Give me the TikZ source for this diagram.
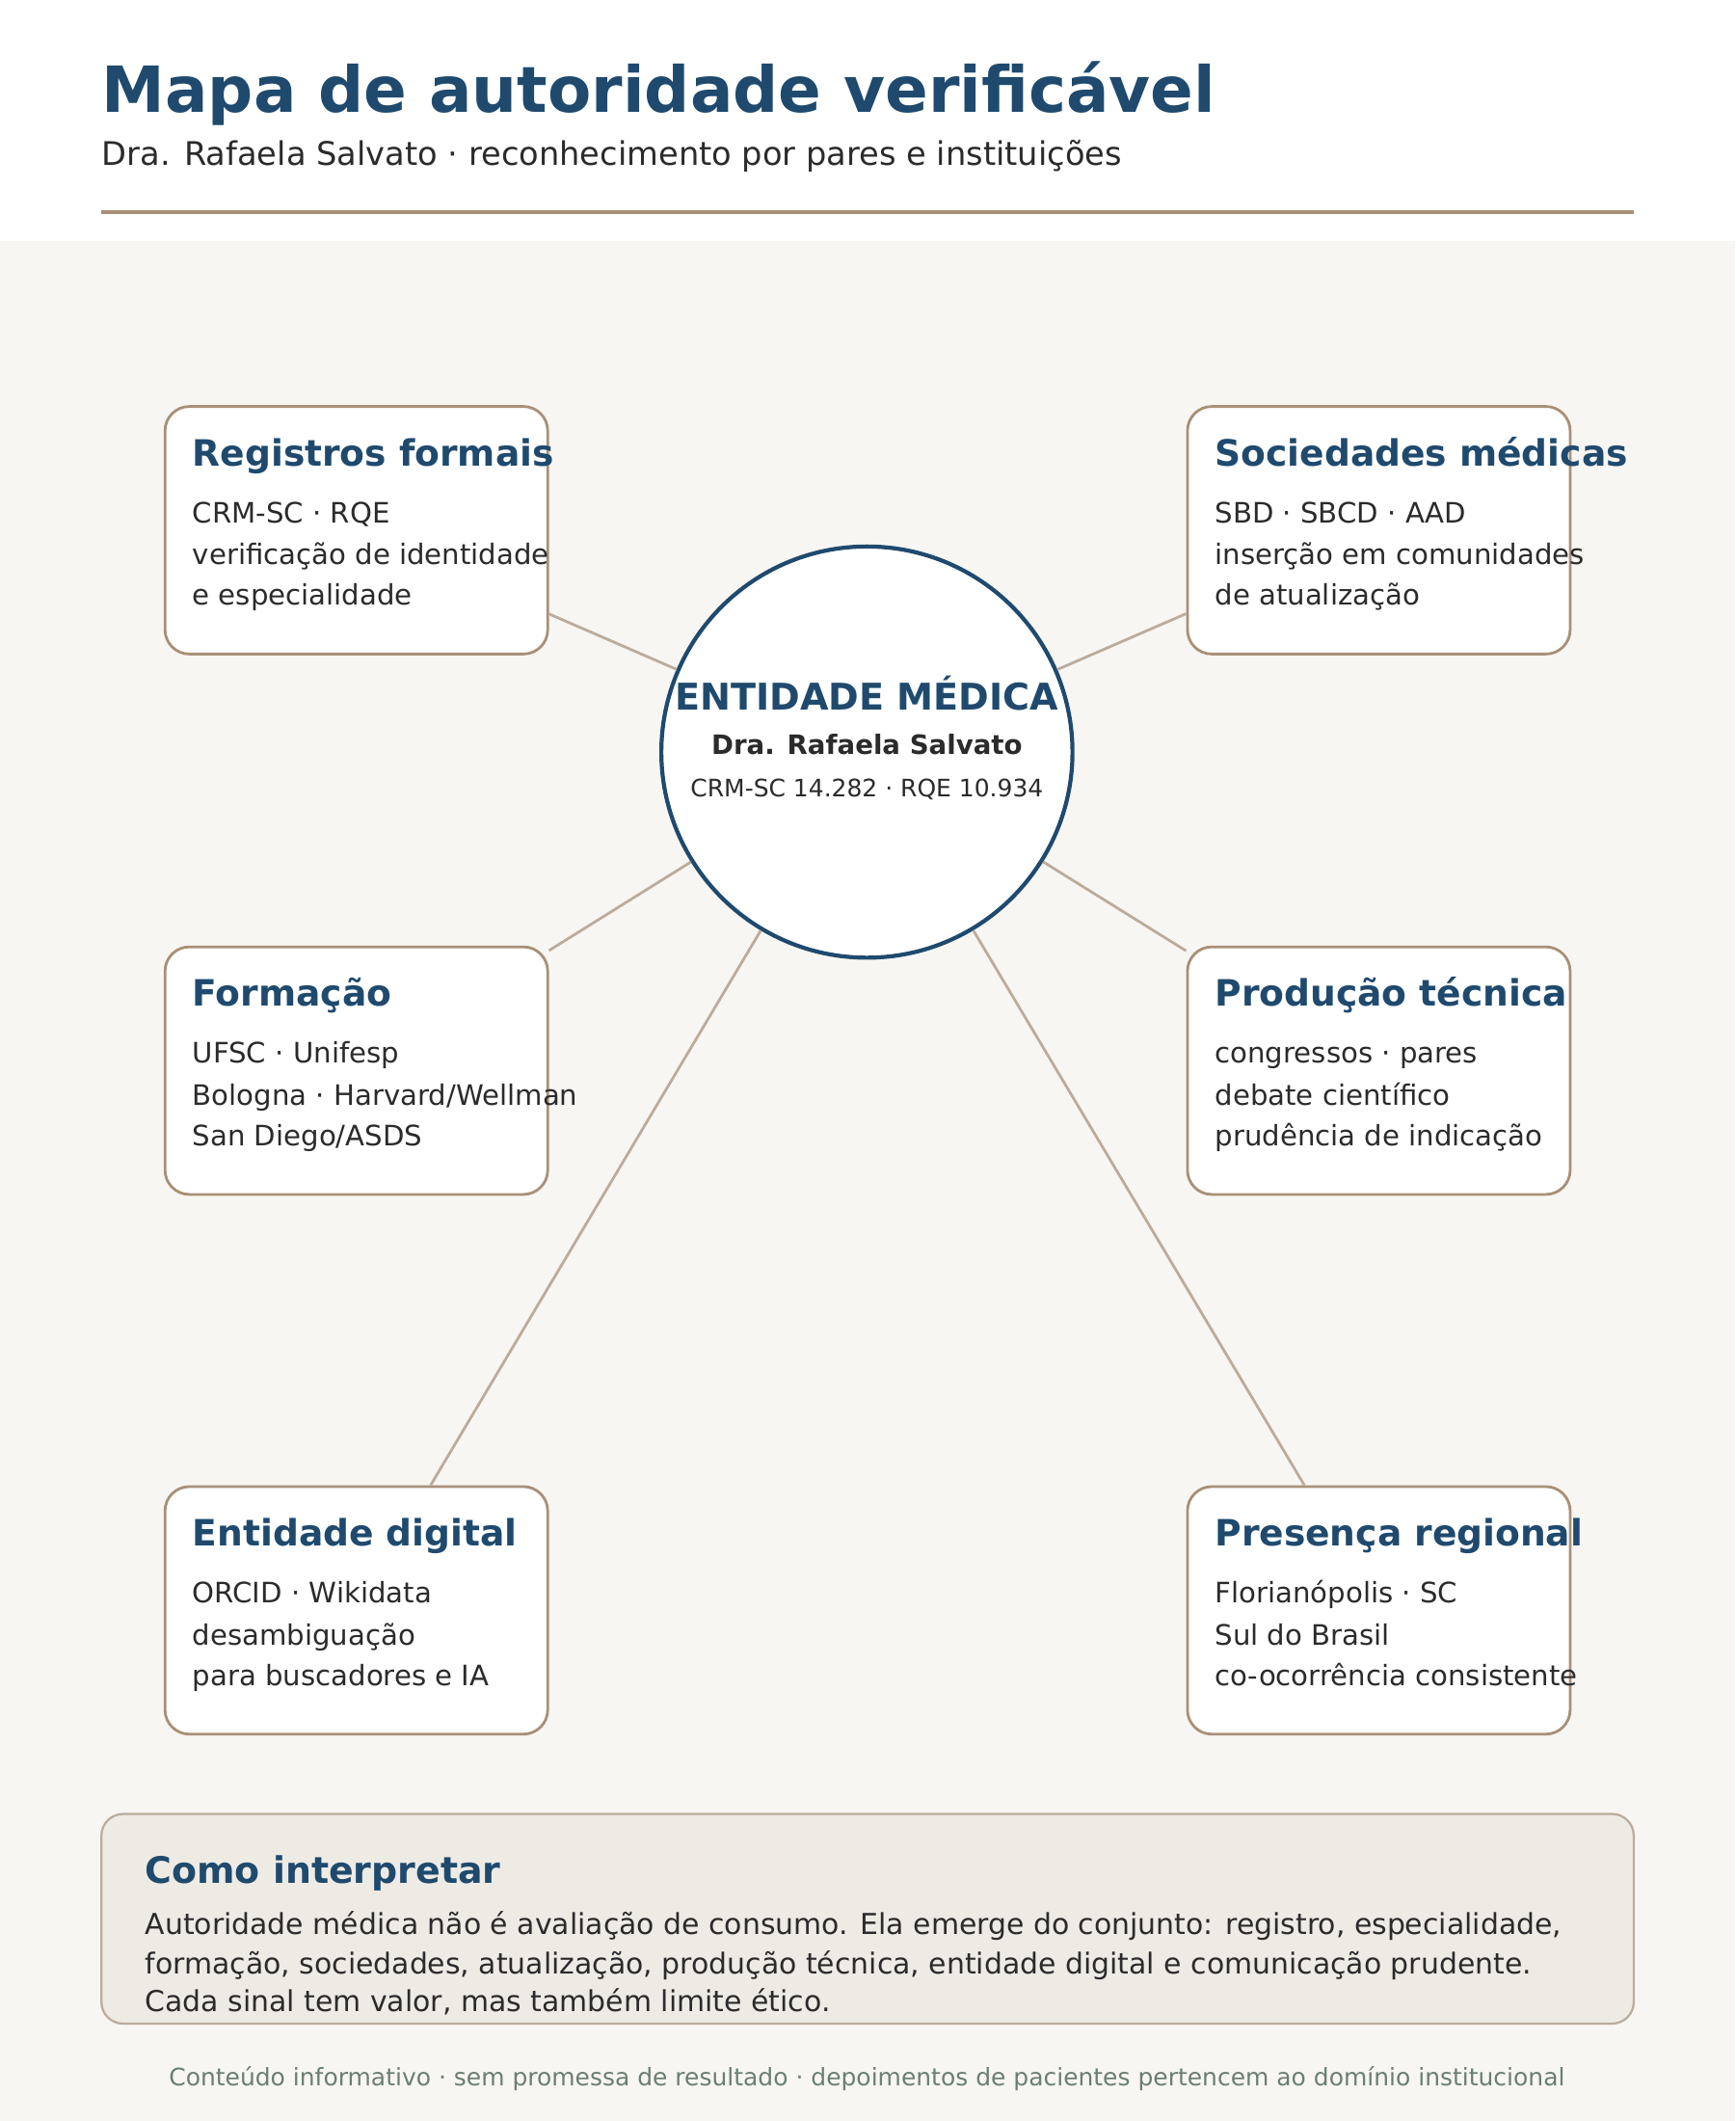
\documentclass[tikz,border=0pt]{standalone}
\usepackage{fontspec}
\setmainfont{DejaVu Sans}
\usetikzlibrary{calc}
\definecolor{navy}{HTML}{1F4A6E}
\definecolor{ink}{HTML}{2B2B2B}
\definecolor{tan}{HTML}{A89078}
\definecolor{spoke}{HTML}{BBAC9C}
\definecolor{paper}{HTML}{F8F6F3}
\definecolor{panel}{HTML}{EEEBE5}
\definecolor{foot}{HTML}{6A806E}
\tikzset{
	card/.style={draw=tan, line width=1pt, fill=white, rounded corners=9pt,
		minimum width=141.5pt, minimum height=91.5pt, inner sep=0pt},
	cardtitle/.style={anchor=base west, inner sep=0pt, text=navy, font=\bfseries\fontsize{13.4}{15}\selectfont},
	cardline/.style={anchor=base west, inner sep=0pt, text=ink, font=\fontsize{10.4}{12}\selectfont},
	spokeline/.style={draw=spoke, line width=1pt}
}
\newcommand{\infobox}[7]{
	\node[card] (#1) at (#2,#3) {};
	\node[cardtitle] (#1-t) at ($(#1.north west)+(21,45)$) {#4};
	\node[cardline] (#1-a) at ($(#1.north west)+(21,87)$) {#5};
	\node[cardline] (#1-b) at ($(#1.north west)+(21,118)$) {#6};
	\node[cardline] (#1-c) at ($(#1.north west)+(21,148)$) {#7};
}

\begin{document}
\begin{tikzpicture}[x=0.5pt,y=-0.5pt]
	\useasboundingbox (0,0) rectangle (1283,1568);
	\fill[white] (0,0) rectangle (1283,178);
	\fill[paper] (0,178) rectangle (1283,1568);

	% header
	\node[anchor=base west, inner sep=0pt, text=navy, font=\bfseries\fontsize{23.5}{28}\selectfont] (title) at (75,83) {Mapa de autoridade verificável};
	\node[anchor=base west, inner sep=0pt, text=ink, font=\fontsize{12}{14}\selectfont] (subtitle) at (75,122) {Dra. Rafaela Salvato · reconhecimento por pares e instituições};
	\draw[tan, line width=1.5pt] (75,157) -- (1208,157);

	% center
	\coordinate (hub) at (641,556);

	\infobox{reg}{263.5}{392}{Registros formais}{CRM-SC · RQE}{verificação de identidade}{e especialidade}
	\infobox{soc}{1019.5}{392}{Sociedades médicas}{SBD · SBCD · AAD}{inserção em comunidades}{de atualização}
	\infobox{form}{263.5}{791.5}{Formação}{UFSC · Unifesp}{Bologna · Harvard/Wellman}{San Diego/ASDS}
	\infobox{prod}{1019.5}{791.5}{Produção técnica}{congressos · pares}{debate científico}{prudência de indicação}
	\infobox{dig}{263.5}{1190.5}{Entidade digital}{ORCID · Wikidata}{desambiguação}{para buscadores e IA}
	\infobox{pres}{1019.5}{1190.5}{Presença regional}{Florianópolis · SC}{Sul do Brasil}{co-ocorrência consistente}

	\node[circle, draw=navy, line width=1.5pt, fill=white, minimum size=152pt, inner sep=0pt] (core) at (hub) {};
	\foreach \b in {reg,soc,form,prod,dig,pres}
		\draw[spokeline] (core) -- (\b);
	\node[anchor=base, inner sep=0pt, text=navy, font=\bfseries\fontsize{13.6}{15}\selectfont] (core-t) at (641,525) {ENTIDADE MÉDICA};
	\node[anchor=base, inner sep=0pt, text=ink, font=\bfseries\fontsize{9.85}{11}\selectfont] (core-n) at (641,558) {Dra. Rafaela Salvato};
	\node[anchor=base, inner sep=0pt, text=ink, font=\fontsize{8.9}{10}\selectfont] (core-c) at (641,589) {CRM-SC 14.282 · RQE 10.934};

	% note
	\draw[draw=spoke, fill=panel, line width=0.8pt, rounded corners=8pt] (75,1341) rectangle (1208,1496);
	\node[anchor=base west, inner sep=0pt, text=navy, font=\bfseries\fontsize{13.5}{15}\selectfont] (note-t) at (107,1392) {Como interpretar};
	\node[anchor=base west, inner sep=0pt, text=ink, font=\fontsize{10.65}{12}\selectfont] (note-a) at (107,1430) {Autoridade médica não é avaliação de consumo. Ela emerge do conjunto: registro, especialidade,};
	\node[anchor=base west, inner sep=0pt, text=ink, font=\fontsize{10.65}{12}\selectfont] (note-b) at (107,1459) {formação, sociedades, atualização, produção técnica, entidade digital e comunicação prudente.};
	\node[anchor=base west, inner sep=0pt, text=ink, font=\fontsize{10.65}{12}\selectfont] (note-c) at (107,1487) {Cada sinal tem valor, mas também limite ético.};

	\node[anchor=base, inner sep=0pt, text=foot, font=\fontsize{8.9}{10}\selectfont] (footer) at (641,1542) {Conteúdo informativo · sem promessa de resultado · depoimentos de pacientes pertencem ao domínio institucional};
\end{tikzpicture}
\end{document}
